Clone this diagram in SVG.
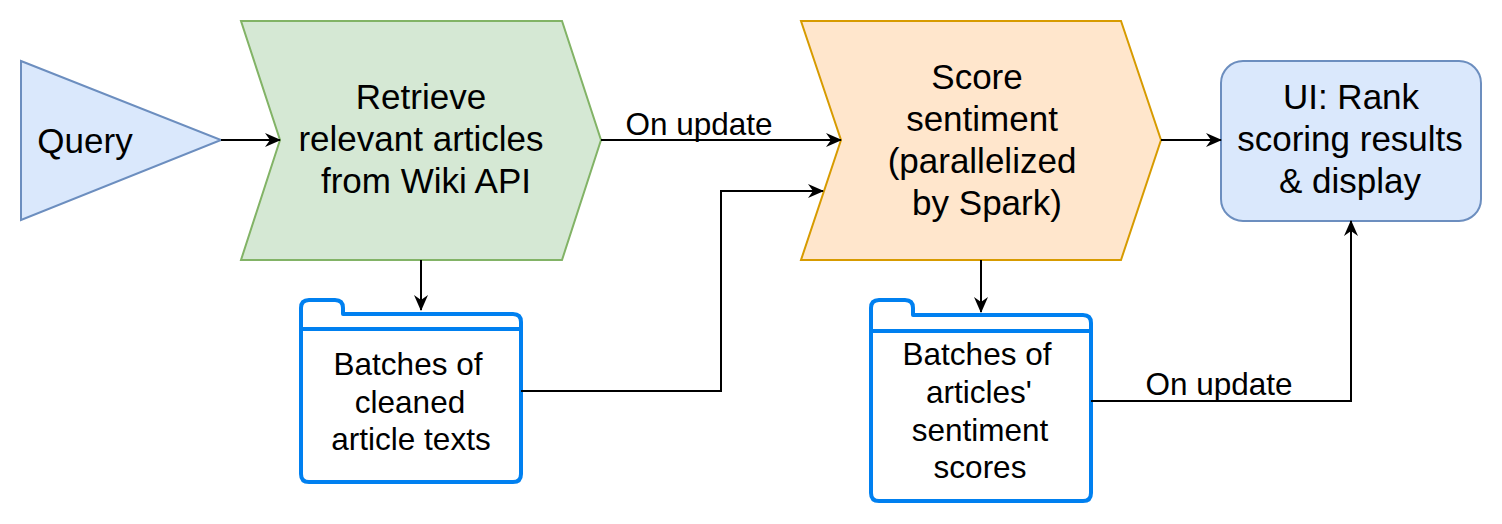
<svg xmlns="http://www.w3.org/2000/svg" width="1502" height="524" viewBox="0 0 1502 524">
<style>
text{font-family:"Liberation Sans",Arial,sans-serif;fill:#000;text-anchor:middle}
.big{font-size:35px}
.small{font-size:31.5px}
.edge{fill:none;stroke:#000;stroke-width:2;marker-end:url(#arr)}
.folder{fill:#fff;stroke:#0080F0;stroke-width:4;stroke-linejoin:round}
</style>
<defs>
<marker id="arr" markerUnits="userSpaceOnUse" viewBox="0 0 16 14" refX="15" refY="7" markerWidth="16" markerHeight="14" orient="auto">
<path d="M0,0 L16,7 L0,14 L5,7 Z" fill="#000"/>
</marker>
</defs>
<rect width="1502" height="524" fill="#fff"/>
<g id="query">
<polygon points="21,61 221,140 21,220" fill="#dae8fc" stroke="#6c8ebf" stroke-width="2"/>
<text class="big" x="85" y="153">Query</text>
</g>
<g id="retrieve">
<polygon points="241,21 562,21 601,140 562,260 241,260 280,140" fill="#d5e8d4" stroke="#82b366" stroke-width="2"/>
<text class="big" x="421" y="109">Retrieve</text>
<text class="big" x="421" y="151">relevant articles</text>
<text class="big" x="426" y="193">from Wiki API</text>
</g>
<g id="score">
<polygon points="801,21 1121,21 1161,140 1121,260 801,260 841,140" fill="#ffe6cc" stroke="#d79b00" stroke-width="2"/>
<text class="big" x="977" y="89">Score</text>
<text class="big" x="982" y="131">sentiment</text>
<text class="big" x="982" y="173">(parallelized</text>
<text class="big" x="987" y="215">by Spark)</text>
</g>
<g id="ui">
<rect x="1221" y="61" width="260" height="160" rx="22" ry="22" fill="#dae8fc" stroke="#6c8ebf" stroke-width="2"/>
<text class="big" x="1351" y="109">UI: Rank</text>
<text class="big" x="1350" y="151">scoring results</text>
<text class="big" x="1350" y="193">&amp; display</text>
</g>
<g id="folder1">
<path class="folder" d="M309,300 H335 Q343,300 343,308 V314 H513 Q521,314 521,322 V474 Q521,482 513,482 H309 Q301,482 301,474 V308 Q301,300 309,300 Z"/>
<path d="M301,329 H521" stroke="#0080F0" stroke-width="4"/>
<text class="small" x="408" y="375">Batches of</text>
<text class="small" x="410" y="413">cleaned</text>
<text class="small" x="411" y="450">article texts</text>
</g>
<g id="folder2">
<path class="folder" d="M879,300 H905 Q913,300 913,308 V315 H1083 Q1091,315 1091,323 V493 Q1091,501 1083,501 H879 Q871,501 871,493 V308 Q871,300 879,300 Z"/>
<path d="M871,331 H1091" stroke="#0080F0" stroke-width="4"/>
<text class="small" x="977" y="365">Batches of</text>
<text class="small" x="979" y="403">articles'</text>
<text class="small" x="980" y="441">sentiment</text>
<text class="small" x="980" y="478">scores</text>
</g>
<g id="connectors">
<path class="edge" d="M221,140 H280"/>
<path class="edge" d="M601,140 H841"/>
<text class="small" x="699" y="135">On update</text>
<path class="edge" d="M421,260 V310"/>
<path class="edge" d="M521,391 H721 V191 H823"/>
<path class="edge" d="M981,260 V312"/>
<path class="edge" d="M1161,140 H1221"/>
<path class="edge" d="M1091,401 H1351 V221"/>
<text class="small" x="1219" y="395">On update</text>
</g>
</svg>
